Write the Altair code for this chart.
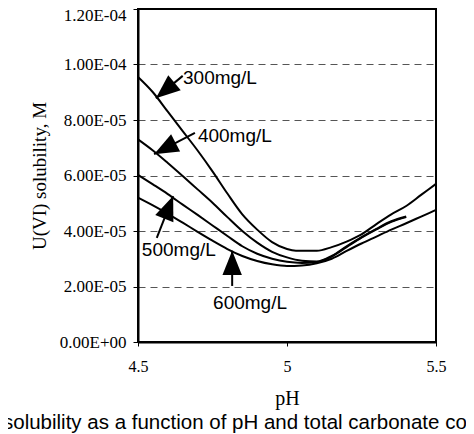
import math
import altair as alt
import pandas as pd

# ---- data (solubility in units of 1e-5 M) ----
ph_a = [4.50, 4.55, 4.60, 4.65, 4.70, 4.75, 4.80, 4.85, 4.90, 4.95, 5.00, 5.03, 5.10,
        5.15, 5.20, 5.25, 5.30, 5.35, 5.40, 5.45, 5.50]
s300 = [9.55, 9.00, 8.30, 7.60, 6.90, 6.15, 5.35, 4.60, 4.05, 3.60, 3.35, 3.29, 3.29,
        3.42, 3.62, 3.88, 4.25, 4.60, 4.90, 5.30, 5.70]

ph_b = [4.50, 4.55, 4.60, 4.65, 4.70, 4.75, 4.80, 4.85, 4.90, 4.95, 5.00, 5.05, 5.10,
        5.15, 5.20, 5.25, 5.30, 5.35, 5.40]
s400 = [7.30, 6.90, 6.45, 5.98, 5.50, 5.02, 4.50, 4.00, 3.58, 3.25, 3.05, 2.93, 2.90,
        3.10, 3.45, 3.78, 4.08, 4.35, 4.52]
s500 = [6.02, 5.68, 5.33, 4.95, 4.58, 4.20, 3.82, 3.45, 3.18, 3.00, 2.89, 2.85, 2.88,
        3.08, 3.42, 3.76, 4.06, 4.33, 4.50]

ph_c = [4.50, 4.55, 4.60, 4.65, 4.70, 4.75, 4.80, 4.85, 4.90, 4.95, 5.00, 5.05, 5.10,
        5.15, 5.20, 5.25, 5.30, 5.35, 5.40, 5.45, 5.50]
s600 = [5.20, 4.92, 4.62, 4.30, 3.97, 3.65, 3.35, 3.10, 2.92, 2.80, 2.74, 2.76, 2.84,
        3.00, 3.28, 3.55, 3.80, 4.05, 4.28, 4.52, 4.76]

series_names = ["300mg/L", "400mg/L", "500mg/L", "600mg/L"]
series_x = [ph_a, ph_b, ph_b, ph_c]
series_y = [s300, s400, s500, s600]

# annotations (pH, 1e-5 M): label anchor, arrow tail, arrow tip
label_x = [4.651, 4.701, 4.513, 4.752]
label_y = [9.51, 7.42, 3.32, 1.41]
tail_x = [4.650, 4.691, 4.563, 4.816]
tail_y = [9.59, 7.54, 3.75, 2.02]
tip_x = [4.560, 4.554, 4.618, 4.816]
tip_y = [8.78, 6.77, 5.26, 3.29]

y_ticks = [0, 2, 4, 6, 8, 10, 12]
x_ticks = [4.5, 5.0, 5.5]
x_domain = [4.5, 5.5]
y_domain = [0, 12]
caption = "solubility as a function of pH and total carbonate concentration"

W, H = 298, 333
UNIT = 1e-5

rows = []
for name, xs, ys in zip(series_names, series_x, series_y):
    for x, y in zip(xs, ys):
        rows.append({"series": name, "pH": x, "sol": y * UNIT})
df = pd.DataFrame(rows)

arr = []
for i, name in enumerate(series_names):
    dxp = (tip_x[i] - tail_x[i]) * W
    dyp = -(tip_y[i] - tail_y[i]) * UNIT / 1.2e-4 * H
    ang = math.degrees(math.atan2(dxp, -dyp)) % 360
    arr.append({"name": name, "lx": label_x[i], "ly": label_y[i] * UNIT,
                "tx": tail_x[i], "ty": tail_y[i] * UNIT,
                "hx": tip_x[i], "hy": tip_y[i] * UNIT, "angle": ang})
adf = pd.DataFrame(arr)

ymax = round(y_domain[1] * UNIT, 12)
border = pd.DataFrame([
    {"x": x_domain[0], "x2": x_domain[1], "y": ymax, "y2": ymax},       # top
    {"x": x_domain[1], "x2": x_domain[1], "y": 0.0, "y2": ymax},        # right
])

label_expr = "replace(replace(format(datum.value, '.2e'), 'e-', 'E-0'), 'e+', 'E+0')"

xscale = alt.Scale(domain=x_domain, nice=False, zero=False)
yscale = alt.Scale(domain=[0, ymax], nice=False)

xaxis = alt.Axis(values=x_ticks, title="pH", grid=False, format="~g", labelFlush=False,
                 labelFont="Liberation Serif", labelFontSize=16, labelColor="black",
                 titleFont="Liberation Serif", titleFontSize=20, titleFontWeight="normal",
                 titleColor="black", tickSize=4, labelPadding=12, titlePadding=14,
                 domainColor="black", domainWidth=2, tickColor="black")
yaxis = alt.Axis(values=[round(v * UNIT, 12) for v in y_ticks], title="U(VI) solubility, M",
                 labelExpr=label_expr, grid=True, gridDash=[7, 5], gridColor="#555555",
                 gridWidth=1, labelFont="Liberation Serif", labelFontSize=17,
                 labelColor="black", titleFont="Liberation Serif", titleFontSize=19,
                 titleFontWeight="normal", titleColor="black", tickSize=5,
                 labelPadding=7, titlePadding=10, domainColor="black", domainWidth=2,
                 tickColor="black", labelOverlap=False, labelFlush=False,
                 labelOffset={"condition": {"test": "datum.value > 1.1e-4", "value": 6},
                              "value": 0})

lines = alt.Chart(df).mark_line(color="black", strokeWidth=2, interpolate="monotone").encode(
    x=alt.X("pH:Q", scale=xscale, axis=xaxis),
    y=alt.Y("sol:Q", scale=yscale, axis=yaxis),
    detail="series:N",
)

frame = alt.Chart(border).mark_rule(color="black", strokeWidth=2).encode(
    x="x:Q", x2="x2:Q", y="y:Q", y2="y2:Q")

rules = alt.Chart(adf).mark_rule(color="black", strokeWidth=2).encode(
    x="tx:Q", y="ty:Q", x2="hx:Q", y2="hy:Q")

heads = alt.Chart(adf).mark_point(
    shape="M0,0L0.8,2L-0.8,2Z", filled=True, color="black", opacity=1, size=590
).encode(x="hx:Q", y="hy:Q", angle=alt.Angle("angle:Q", scale=None))

labels = alt.Chart(adf).mark_text(
    align="left", baseline="middle", font="Liberation Sans", fontSize=19, color="black"
).encode(x="lx:Q", y="ly:Q", text="name:N")

cap = alt.Chart(pd.DataFrame({"t": [caption]})).mark_text(
    align="left", baseline="middle", font="Liberation Sans", fontSize=20.5, color="black"
).encode(x=alt.value(-135), y=alt.value(414), text="t:N")

chart = alt.layer(lines, frame, rules, heads, labels, cap).properties(
    width=W, height=H,
    autosize=alt.AutoSizeParams(type="none"),
    padding={"left": 130, "top": 1, "right": 30, "bottom": 92},
).configure(background="white").configure_view(stroke="black", strokeWidth=2)

chart.save("out.html", embed_options={"renderer": "svg", "actions": False})
